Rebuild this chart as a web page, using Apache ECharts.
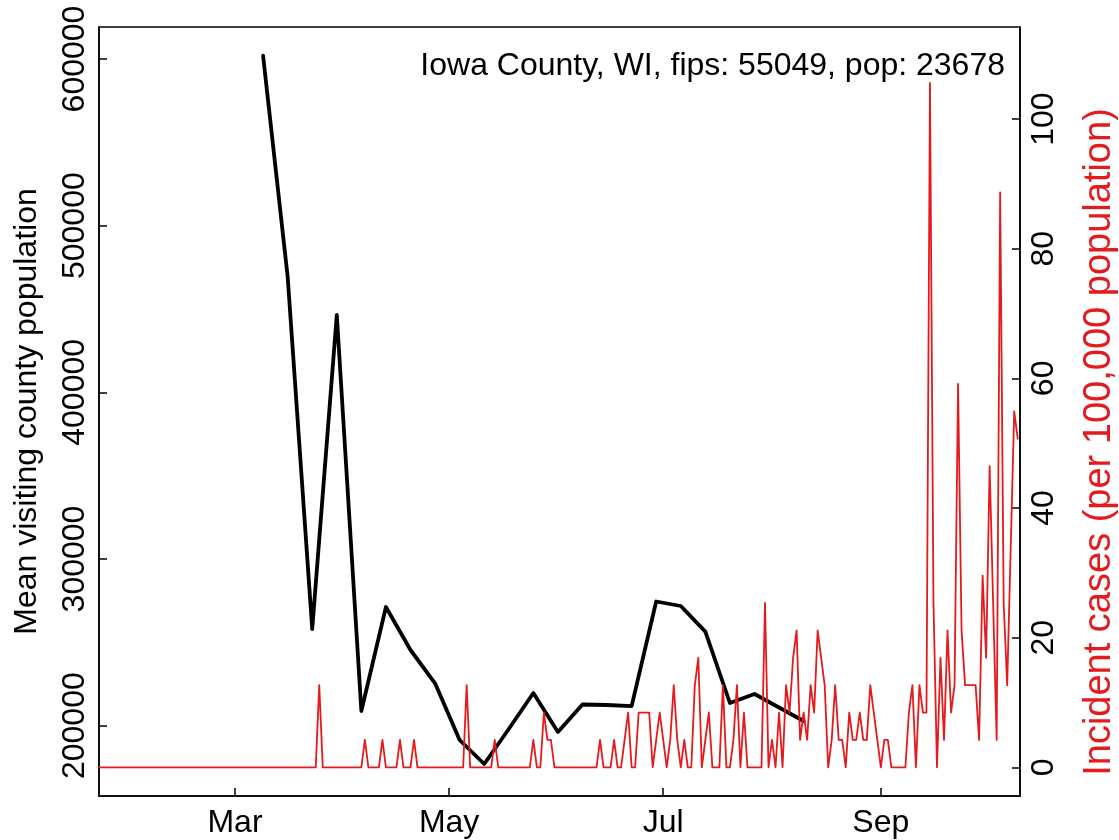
<!DOCTYPE html>
<html><head><meta charset="utf-8">
<script src="https://cdn.jsdelivr.net/npm/echarts@6/dist/echarts.min.js"></script>
<style>html,body{margin:0;padding:0;background:#fff}#c{width:1119px;height:840px}</style>
</head><body><div id="c"></div>
<script>
// ---- data ----
const titleText = 'Iowa County, WI, fips: 55049, pop: 23678';
const leftAxisTitle = 'Mean visiting county population';
const rightAxisTitle = 'Incident cases (per 100,000 population)';
const population = 23678;
// weekly mean visiting county population, first week 2020-03-09
const visitFirstWeek = [2020, 2, 9];
const visitMean = [602000, 469400, 258000, 446400, 208800, 271200, 245400, 225400, 191400, 177000,
  198000, 219600, 196200, 212700, 212400, 211700, 274500, 271800, 256400, 213600, 219000, 210900, 202800];
// daily new cases (counts), first day 2020-01-22
const caseFirstDay = [2020, 0, 22];
const casesJan = [0,0,0,0,0,0,0,0,0,0];
const casesFeb = [0,0,0,0,0,0,0,0,0,0,0,0,0,0,0,0,0,0,0,0,0,0,0,0,0,0,0,0,0];
const casesMar = [0,0,0,0,0,0,0,0,0,0,0,0,0,0,0,0,0,0,0,0,0,0,0,0,3,0,0,0,0,0,0];
const casesApr = [0,0,0,0,0,0,1,0,0,0,0,1,0,0,0,0,1,0,0,0,1,0,0,0,0,0,0,0,0,0];
const casesMay = [0,0,0,0,0,3,0,0,0,0,0,0,0,1,0,0,0,0,0,0,0,0,0,0,1,0,0,2,1,1,0];
const casesJun = [0,0,0,0,0,0,0,0,0,0,0,0,1,0,0,0,1,0,0,1,2,0,0,2,2,2,2,0,1,2];
const casesJul = [1,0,1,3,1,0,1,0,0,3,4,0,1,2,0,0,0,3,0,0,1,3,0,2,0,0,0,0,0,6,0];
const casesAug = [1,0,2,0,3,2,4,5,1,2,1,3,2,5,4,3,0,1,3,1,1,0,2,1,1,2,1,1,3,2,1];
const casesSep = [0,1,1,0,0,0,0,0,2,3,0,3,2,2,25,6,0,4,1,5,2,3,14,5,3,3,3,3,1,7];
const casesOct = [4,11,6,1,21,6,3,8,13,12];
const monthTickDates = [[2020,2,1],[2020,4,1],[2020,6,1],[2020,8,1]];
const monthTickLabels = ['Mar','May','Jul','Sep'];
const leftTicks = [200000, 300000, 400000, 500000, 600000];
const rightTicks = [0, 20, 40, 60, 80, 100];

// ---- build ----
const DAY = 86400000;
const dailyCases = [].concat(casesJan, casesFeb, casesMar, casesApr, casesMay, casesJun, casesJul, casesAug, casesSep, casesOct);
const caseData = dailyCases.map((c, i) => [new Date(caseFirstDay[0], caseFirstDay[1], caseFirstDay[2] + i).getTime(), c * 100000 / population]);
const visitData = visitMean.map((v, i) => [new Date(visitFirstWeek[0], visitFirstWeek[1], visitFirstWeek[2] + 7 * i).getTime(), v]);
const tickTimes = monthTickDates.map(d => new Date(d[0], d[1], d[2]).getTime());
const mar1 = tickTimes[0];
const FONT = '"Liberation Sans", Arial, Helvetica, sans-serif';

const chart = echarts.init(document.getElementById('c'), null, {renderer: 'canvas'});
chart.setOption({
  animation: false,
  backgroundColor: '#fff',
  textStyle: {fontFamily: FONT},
  grid: {left: 99, right: 99, top: 27, bottom: 44, show: true, borderColor: '#000', borderWidth: 1.5,
         containLabel: false, outerBoundsMode: 'none'},
  xAxis: {
    type: 'value',
    min: mar1 - 38.75 * DAY,
    max: mar1 + 223.65 * DAY,
    splitLine: {show: false},
    axisLine: {show: true, onZero: false, lineStyle: {color: '#000', width: 1.5}},
    axisTick: {show: true, inside: true, length: 8, lineStyle: {color: '#000', width: 1.5}, customValues: tickTimes},
    axisLabel: {show: true, color: '#000', fontSize: 32, fontFamily: FONT, margin: 11, customValues: tickTimes,
      formatter: v => { const k = tickTimes.indexOf(v); return k >= 0 ? monthTickLabels[k] : ''; }}
  },
  yAxis: [{
    type: 'value', position: 'left', min: 157800, max: 619200,
    splitLine: {show: false},
    axisLine: {show: true, onZero: false, lineStyle: {color: '#000', width: 1.5}},
    axisTick: {show: true, inside: true, length: 8, lineStyle: {color: '#000', width: 1.5}, customValues: leftTicks},
    axisLabel: {show: true, rotate: 90, color: '#000', fontSize: 32, fontFamily: FONT, margin: 8, customValues: leftTicks,
      formatter: v => String(v)},
    name: leftAxisTitle, nameLocation: 'middle', nameRotate: 90, nameGap: 56,
    nameTextStyle: {color: '#000', fontSize: 32, fontFamily: FONT}
  }, {
    type: 'value', position: 'right', min: -4.43, max: 114.2,
    splitLine: {show: false},
    axisLine: {show: true, onZero: false, lineStyle: {color: '#000', width: 1.5}},
    axisTick: {show: true, inside: true, length: 8, lineStyle: {color: '#000', width: 1.5}, customValues: rightTicks},
    axisLabel: {show: true, rotate: 90, color: '#000', fontSize: 32, fontFamily: FONT, margin: 8, customValues: rightTicks,
      formatter: v => String(v)}
  }],
  graphic: [{
    type: 'text', right: 1119 - 1005, top: 50,
    style: {text: titleText, fill: '#000', font: '32px ' + FONT, textAlign: 'right'}
  }, {
    type: 'text', x: 1081, y: 442, rotation: Math.PI / 2,
    style: {text: rightAxisTitle, fill: '#E41A1C', font: '38px ' + FONT, textAlign: 'center', textVerticalAlign: 'top'}
  }],
  series: [{
    type: 'line', name: 'visits', xAxisIndex: 0, yAxisIndex: 0, data: visitData,
    symbol: 'none', z: 2, clip: true,
    lineStyle: {color: '#000', width: 3.8, join: 'round', cap: 'round'}
  }, {
    type: 'line', name: 'cases', xAxisIndex: 0, yAxisIndex: 1, data: caseData,
    symbol: 'none', z: 3, clip: true,
    lineStyle: {color: '#E41A1C', width: 1.8, join: 'round', cap: 'round'}
  }]
});
</script></body></html>
